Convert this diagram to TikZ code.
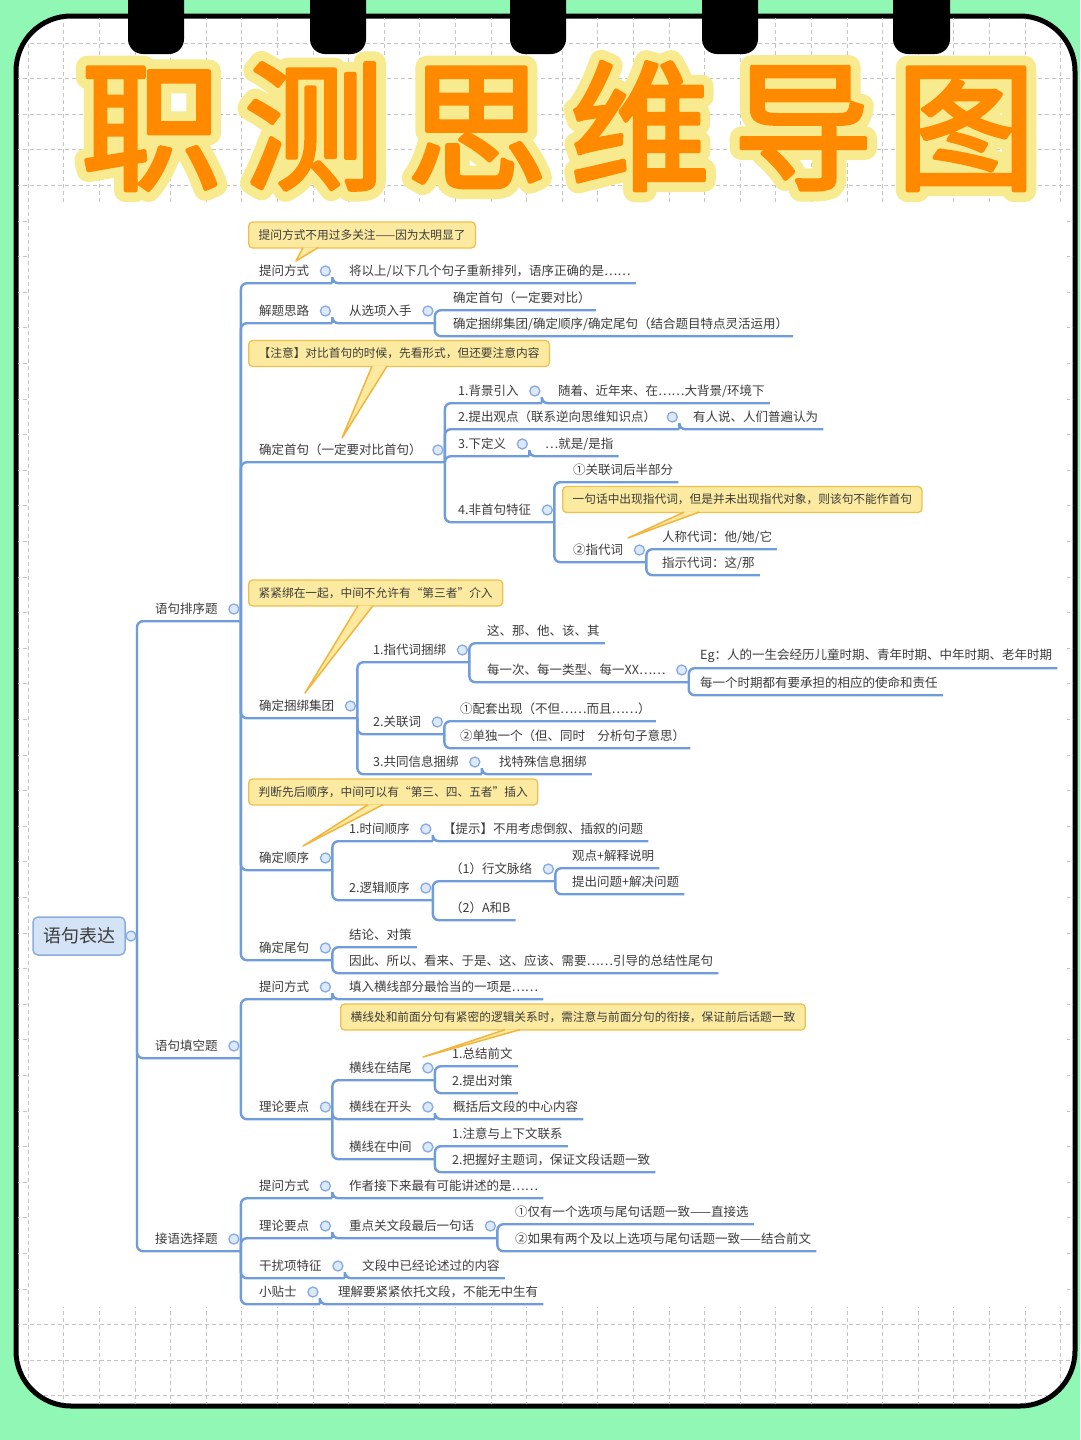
\documentclass[tikz,border=0pt]{standalone}
\usepackage{fontspec}
\setmainfont{Noto Sans CJK SC}
\newfontfamily\titlefont{Noto Sans CJK SC}[FakeBold=3]
\newfontfamily\titleedgefont{Noto Sans CJK SC}[FakeBold=17]
\usetikzlibrary{calc}
\definecolor{mint}{HTML}{90F8B4}
\definecolor{gridgray}{HTML}{C4C4C4}
\definecolor{titleorange}{HTML}{FF8A00}
\definecolor{titleedge}{HTML}{F8EA8E}
\definecolor{bline}{HTML}{6F9CDB}
\definecolor{dotline}{HTML}{86ABE3}
\definecolor{dotfill}{HTML}{DDE9F8}
\definecolor{rootfill}{HTML}{D5E3F6}
\definecolor{rootline}{HTML}{8BAEE0}
\definecolor{callfill}{HTML}{FCEAA0}
\definecolor{callline}{HTML}{EFC04C}
\definecolor{ptrline}{HTML}{F3B53C}
\definecolor{ink}{HTML}{3C3C3C}
\tikzset{
  txt/.style={anchor=west,inner sep=0pt,minimum height=24pt,text=ink,font=\fontsize{12.5}{14}\selectfont},
  branch/.style={draw=bline,line width=2.4pt,rounded corners=6pt},
  knob/.style={circle,draw=dotline,fill=dotfill,line width=1.3pt,inner sep=0pt,minimum size=10pt},
  callout/.style={anchor=west,fill=callfill,draw=callline,line width=1.3pt,rounded corners=4pt,inner xsep=10pt,minimum height=26pt,text=ink,font=\fontsize{11.7}{13}\selectfont},
  rootbox/.style={draw=rootline,fill=rootfill,line width=1.5pt,rounded corners=5pt,minimum width=92pt,minimum height=38pt,text=ink,font=\fontsize{18}{20}\selectfont},
  gridline/.style={draw=gridgray,line width=0.8pt,dash pattern=on 4pt off 3pt},
  titletext/.style={inner sep=0pt,line join=round},
}
\newcommand\titlestring{职\hspace{23pt}测\hspace{23pt}思\hspace{23pt}维\hspace{23pt}导\hspace{23pt}图}
\begin{document}
\begin{tikzpicture}[x=1pt,y=-1pt]
\useasboundingbox (0,0) rectangle (1080,1440);
\fill[mint] (0,0) rectangle (1080,1440);
% page with grid
\draw[line width=5pt,fill=white,rounded corners=55pt] (16,16) rectangle (1075,1406);
\begin{scope}
  \clip[rounded corners=55pt] (18,18) rectangle (1073,1404);
  \foreach \i in {0,...,29} \draw[gridline] (28.2+35.6*\i,16) -- (28.2+35.6*\i,1406);
  \foreach \j in {0,...,39} \draw[gridline] (16,7.4+35.6*\j) -- (1075,7.4+35.6*\j);
\end{scope}
\foreach \a/\b in {128/184,310/366,510/566,702/758,893/950}
  \fill[black,rounded corners=15pt] (\a,-30) rectangle (\b,54);
% title
\node[titletext,text=titleedge,font=\titleedgefont\fontsize{140}{140}\selectfont] (title-edge) at (558.5,126) {\titlestring};
\node[titletext,text=titleorange,font=\titlefont\fontsize{140}{140}\selectfont] (title) at (558.5,126) {\titlestring};
% mind map sheet
\fill[white] (30,204) rectangle (1067,1307);
\node[rootbox] (root) at (79,936) {语句表达};
\coordinate (root-e) at (137,936);
% 语句排序题
\node[txt] (s1) at (155,609) {语句排序题};
\node[txt] (a1) at (259,271) {提问方式};
\node[txt] (a1a) at (349,271) {将以上/以下几个句子重新排列，语序正确的是……};
\node[txt] (a2) at (259,311) {解题思路};
\node[txt] (a2a) at (349,311) {从选项入手};
\node[txt] (a2a1) at (453,298) {确定首句（一定要对比）};
\node[txt] (a2a2) at (453,324) {确定捆绑集团/确定顺序/确定尾句（结合题目特点灵活运用）};
\node[txt] (a3) at (259,450) {确定首句（一定要对比首句）};
\node[txt] (a31) at (458,391) {1.背景引入};
\node[txt] (a31a) at (558,391) {随着、近年来、在……大背景/环境下};
\node[txt] (a32) at (458,417) {2.提出观点（联系逆向思维知识点）};
\node[txt] (a32a) at (693,417) {有人说、人们普遍认为};
\node[txt] (a33) at (458,444) {3.下定义};
\node[txt] (a33a) at (545,444) {…就是/是指};
\node[txt] (a34) at (458,510) {4.非首句特征};
\node[txt] (a34a) at (573,470) {①关联词后半部分};
\node[txt] (a34b) at (573,550) {②指代词};
\node[txt] (a34b1) at (662,537) {人称代词：他/她/它};
\node[txt] (a34b2) at (662,563) {指示代词：这/那};
\node[txt] (a4) at (259,706) {确定捆绑集团};
\node[txt] (a41) at (373,650) {1.指代词捆绑};
\node[txt] (a41a) at (487,631) {这、那、他、该、其};
\node[txt] (a41b) at (487,670) {每一次、每一类型、每一XX……};
\node[txt] (a41b1) at (700,656) {Eg：人的一生会经历儿童时期、青年时期、中年时期、老年时期};
\node[txt] (a41b2) at (700,683) {每一个时期都有要承担的相应的使命和责任};
\node[txt] (a42) at (373,722) {2.关联词};
\node[txt] (a42a) at (460,709) {①配套出现（不但……而且……）};
\node[txt] (a42b) at (460,736) {②单独一个（但、同时\quad 分析句子意思）};
\node[txt] (a43) at (373,762) {3.共同信息捆绑};
\node[txt] (a43a) at (499,762) {找特殊信息捆绑};
\node[txt] (a5) at (259,858) {确定顺序};
\node[txt] (a51) at (349,829) {1.时间顺序};
\node[txt] (a51a) at (443,829) {【提示】不用考虑倒叙、插叙的问题};
\node[txt] (a52) at (349,888) {2.逻辑顺序};
\node[txt] (a52a) at (450,869) {（1）行文脉络};
\node[txt] (a52a1) at (572,856) {观点+解释说明};
\node[txt] (a52a2) at (572,882) {提出问题+解决问题};
\node[txt] (a52b) at (450,908) {（2）A和B};
\node[txt] (a6) at (259,948) {确定尾句};
\node[txt] (a61) at (349,935) {结论、对策};
\node[txt] (a62) at (349,961) {因此、所以、看来、于是、这、应该、需要……引导的总结性尾句};
% 语句填空题
\node[txt] (s2) at (155,1046) {语句填空题};
\node[txt] (b1) at (259,987) {提问方式};
\node[txt] (b1a) at (349,987) {填入横线部分最恰当的一项是……};
\node[txt] (b2) at (259,1107) {理论要点};
\node[txt] (b21) at (349,1068) {横线在结尾};
\node[txt] (b21a) at (452,1054) {1.总结前文};
\node[txt] (b21b) at (452,1081) {2.提出对策};
\node[txt] (b22) at (349,1107) {横线在开头};
\node[txt] (b22a) at (453,1107) {概括后文段的中心内容};
\node[txt] (b23) at (349,1147) {横线在中间};
\node[txt] (b23a) at (452,1134) {1.注意与上下文联系};
\node[txt] (b23b) at (452,1160) {2.把握好主题词，保证文段话题一致};
% 接语选择题
\node[txt] (s3) at (155,1239) {接语选择题};
\node[txt] (c1) at (259,1186) {提问方式};
\node[txt] (c1a) at (349,1186) {作者接下来最有可能讲述的是……};
\node[txt] (c2) at (259,1226) {理论要点};
\node[txt] (c2a) at (349,1226) {重点关文段最后一句话};
\node[txt] (c2a1) at (515,1212) {①仅有一个选项与尾句话题一致——直接选};
\node[txt] (c2a2) at (515,1239) {②如果有两个及以上选项与尾句话题一致——结合前文};
\node[txt] (c3) at (259,1266) {干扰项特征};
\node[txt] (c3a) at (362,1266) {文段中已经论述过的内容};
\node[txt] (c4) at (259,1292) {小贴士};
\node[txt] (c4a) at (338,1292) {理解要紧紧依托文段，不能无中生有};
% underline ends
\foreach \n in {a1a,a2a1,a2a2,a31a,a32a,a33a,a34a,a34b1,a34b2,a41a,a41b1,a41b2,a42a,a42b,a43a,a51a,a52a1,a52a2,a52b,a61,a62,b1a,b21a,b21b,b22a,b23a,b23b,c1a,c2a1,c2a2,c3a,c4a}
  \coordinate (\n-e) at ($(\n.south east)+(5,0)$);
\foreach \n in {s1,s2,s3,a1,a2,a2a,a3,a31,a32,a33,a34,a34b,a4,a41,a41b,a42,a43,a5,a51,a52,a52a,a6,b1,b2,b21,b22,b23,c1,c2,c2a,c3,c4}
  \coordinate (\n-e) at ($(\n.south east)+(23,0)$);
% branches
\draw[branch] (root.east) -- (root-e);
\foreach \p/\c in {root/s1,root/s2,root/s3,
  s1/a1,s1/a2,s1/a3,s1/a4,s1/a5,s1/a6,a1/a1a,a2/a2a,a2a/a2a1,a2a/a2a2,
  a3/a31,a3/a32,a3/a33,a3/a34,a31/a31a,a32/a32a,a33/a33a,a34/a34a,a34/a34b,a34b/a34b1,a34b/a34b2,
  a4/a41,a4/a42,a4/a43,a41/a41a,a41/a41b,a41b/a41b1,a41b/a41b2,a42/a42a,a42/a42b,a43/a43a,
  a5/a51,a5/a52,a51/a51a,a52/a52a,a52/a52b,a52a/a52a1,a52a/a52a2,a6/a61,a6/a62,
  s2/b1,s2/b2,b1/b1a,b2/b21,b2/b22,b2/b23,b21/b21a,b21/b21b,b22/b22a,b23/b23a,b23/b23b,
  s3/c1,s3/c2,s3/c3,s3/c4,c1/c1a,c2/c2a,c2a/c2a1,c2a/c2a2,c3/c3a,c4/c4a}
  \draw[branch] (\p-e) |- (\c-e);
\node[knob] (root-o) at (131,936) {};
\foreach \n in {s1,s2,s3,a1,a2,a2a,a3,a31,a32,a33,a34,a34b,a4,a41,a41b,a42,a43,a5,a51,a52,a52a,a6,b1,b2,b21,b22,b23,c1,c2,c2a,c3,c4}
  \node[knob] (\n-o) at ($(\n.east)+(16,0)$) {};
% callouts
\node[callout] (k1) at (248,235) {提问方式不用过多关注——因为太明显了};
\node[callout] (k2) at (248,353.5) {【注意】对比首句的时候，先看形式，但还要注意内容};
\node[callout] (k3) at (562,499.5) {一句话中出现指代词，但是并未出现指代对象，则该句不能作首句};
\node[callout] (k4) at (248,593) {紧紧绑在一起，中间不允许有“第三者”介入};
\node[callout] (k5) at (248,792) {判断先后顺序，中间可以有“第三、四、五者”插入};
\node[callout] (k6) at (340,1017) {横线处和前面分句有紧密的逻辑关系时，需注意与前面分句的衔接，保证前后话题一致};
\foreach \k/\bx/\tx/\ty in {k1/303/296/261,k2/372/342/438,k3/684/628/538,k4/358/305/693,k5/368/303/846,k6/505/423/1057}{
  \coordinate (\k-tip) at (\tx,\ty);
  \fill[callfill] ($(\bx,0 |- \k.south)+(0,-1)$) -- (\k-tip) -- ($(\bx+15,0 |- \k.south)+(0,-1)$) -- cycle;
  \draw[ptrline,line width=1.5pt,line join=round] ($(\bx,0 |- \k.south)+(0,-1)$) -- (\k-tip) -- ($(\bx+15,0 |- \k.south)+(0,-1)$);
}
\end{tikzpicture}
\end{document}
